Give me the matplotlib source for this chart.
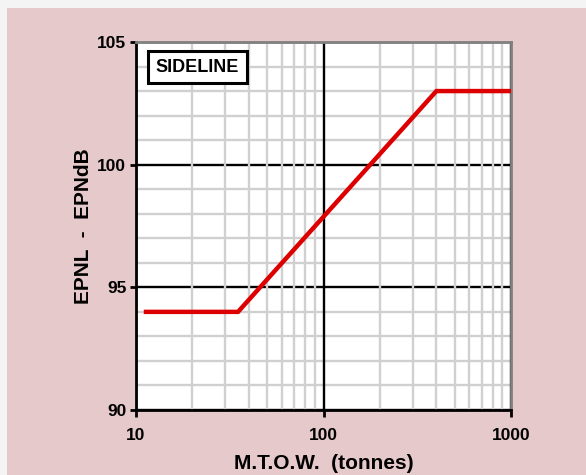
import matplotlib
matplotlib.use("Agg")
import matplotlib.pyplot as plt
from matplotlib.ticker import FixedLocator, NullFormatter, FixedFormatter
from matplotlib.patches import Rectangle

# Data: ICAO sideline limit vs MTOW
mtow = [11, 35, 400, 1000]
epnl = [94, 94, 103, 103]
x_ticks = [10, 100, 1000]
x_tick_labels = ["10", "100", "1000"]
y_ticks = [90, 95, 100, 105]
y_tick_labels = ["90", "95", "100", "105"]
x_minor = [20, 30, 40, 50, 60, 70, 80, 90, 200, 300, 400, 500, 600, 700, 800, 900]
y_minor = [91, 92, 93, 94, 96, 97, 98, 99, 101, 102, 103, 104]
panel_label = "SIDELINE"
x_label = "M.T.O.W.  (tonnes)"
y_label = "EPNL  -  EPNdB"

plt.rcParams['font.family'] = ['Liberation Sans', 'DejaVu Sans']

W, H = 586, 475
fig = plt.figure(figsize=(W / 100, H / 100), dpi=100, facecolor="#f4f4f4")
pink = "#e6c9ca"
fig.patches.append(Rectangle((7 / W, 0), 1 - 7 / W, 1 - 8 / H, transform=fig.transFigure,
                             facecolor=pink, edgecolor="none", zorder=-10))

left, right, top, bottom = 136, 511, 42, 410
ax = fig.add_axes([left / W, 1 - bottom / H, (right - left) / W, (bottom - top) / H])
ax.set_zorder(1)
ax.set_facecolor("white")
ax.set_xscale("log")
ax.set_xlim(10, 1000)
ax.set_ylim(90, 105)

ax.xaxis.set_major_locator(FixedLocator(x_ticks))
ax.xaxis.set_major_formatter(FixedFormatter(x_tick_labels))
ax.xaxis.set_minor_locator(FixedLocator(x_minor))
ax.xaxis.set_minor_formatter(NullFormatter())
ax.yaxis.set_major_locator(FixedLocator(y_ticks))
ax.yaxis.set_major_formatter(FixedFormatter(y_tick_labels))
ax.yaxis.set_minor_locator(FixedLocator(y_minor))

ax.grid(which="minor", axis="both", color="#d0d0d0", linewidth=1.7)
ax.grid(which="major", axis="both", color="black", linewidth=1.7)
ax.set_axisbelow(True)
ax.yaxis.set_zorder(0.5)
ax.xaxis.set_zorder(0.6)

ax.tick_params(which="minor", length=0)
ax.tick_params(axis="x", which="major", length=5, width=2, color="black", direction="out",
               labelsize=12.5, pad=8)
ax.tick_params(axis="y", which="major", length=4, width=2, color="black", direction="out",
               labelsize=12.5, pad=3)
for lab in ax.get_xticklabels() + ax.get_yticklabels():
    lab.set_fontweight("bold")

for s in ["left", "bottom"]:
    ax.spines[s].set_color("black")
    ax.spines[s].set_linewidth(2)
for s in ["top", "right"]:
    ax.spines[s].set_color("#808080")
    ax.spines[s].set_linewidth(2)

ax.plot(mtow, epnl, color="#dd0000", linewidth=3.2, solid_capstyle="butt",
        solid_joinstyle="miter", zorder=3, clip_on=False)

ax.text(0.164, 0.932, panel_label, transform=ax.transAxes, fontsize=13, fontweight="bold",
        ha="center", va="center",
        bbox=dict(boxstyle="square,pad=0.42", facecolor="white", edgecolor="black", linewidth=2.2))

ax.set_xlabel(x_label, fontsize=15, fontweight="bold", labelpad=8)
ax.set_ylabel(y_label, fontsize=15, fontweight="bold", labelpad=3)

fig.savefig("out.png", dpi=100, facecolor=fig.get_facecolor())
